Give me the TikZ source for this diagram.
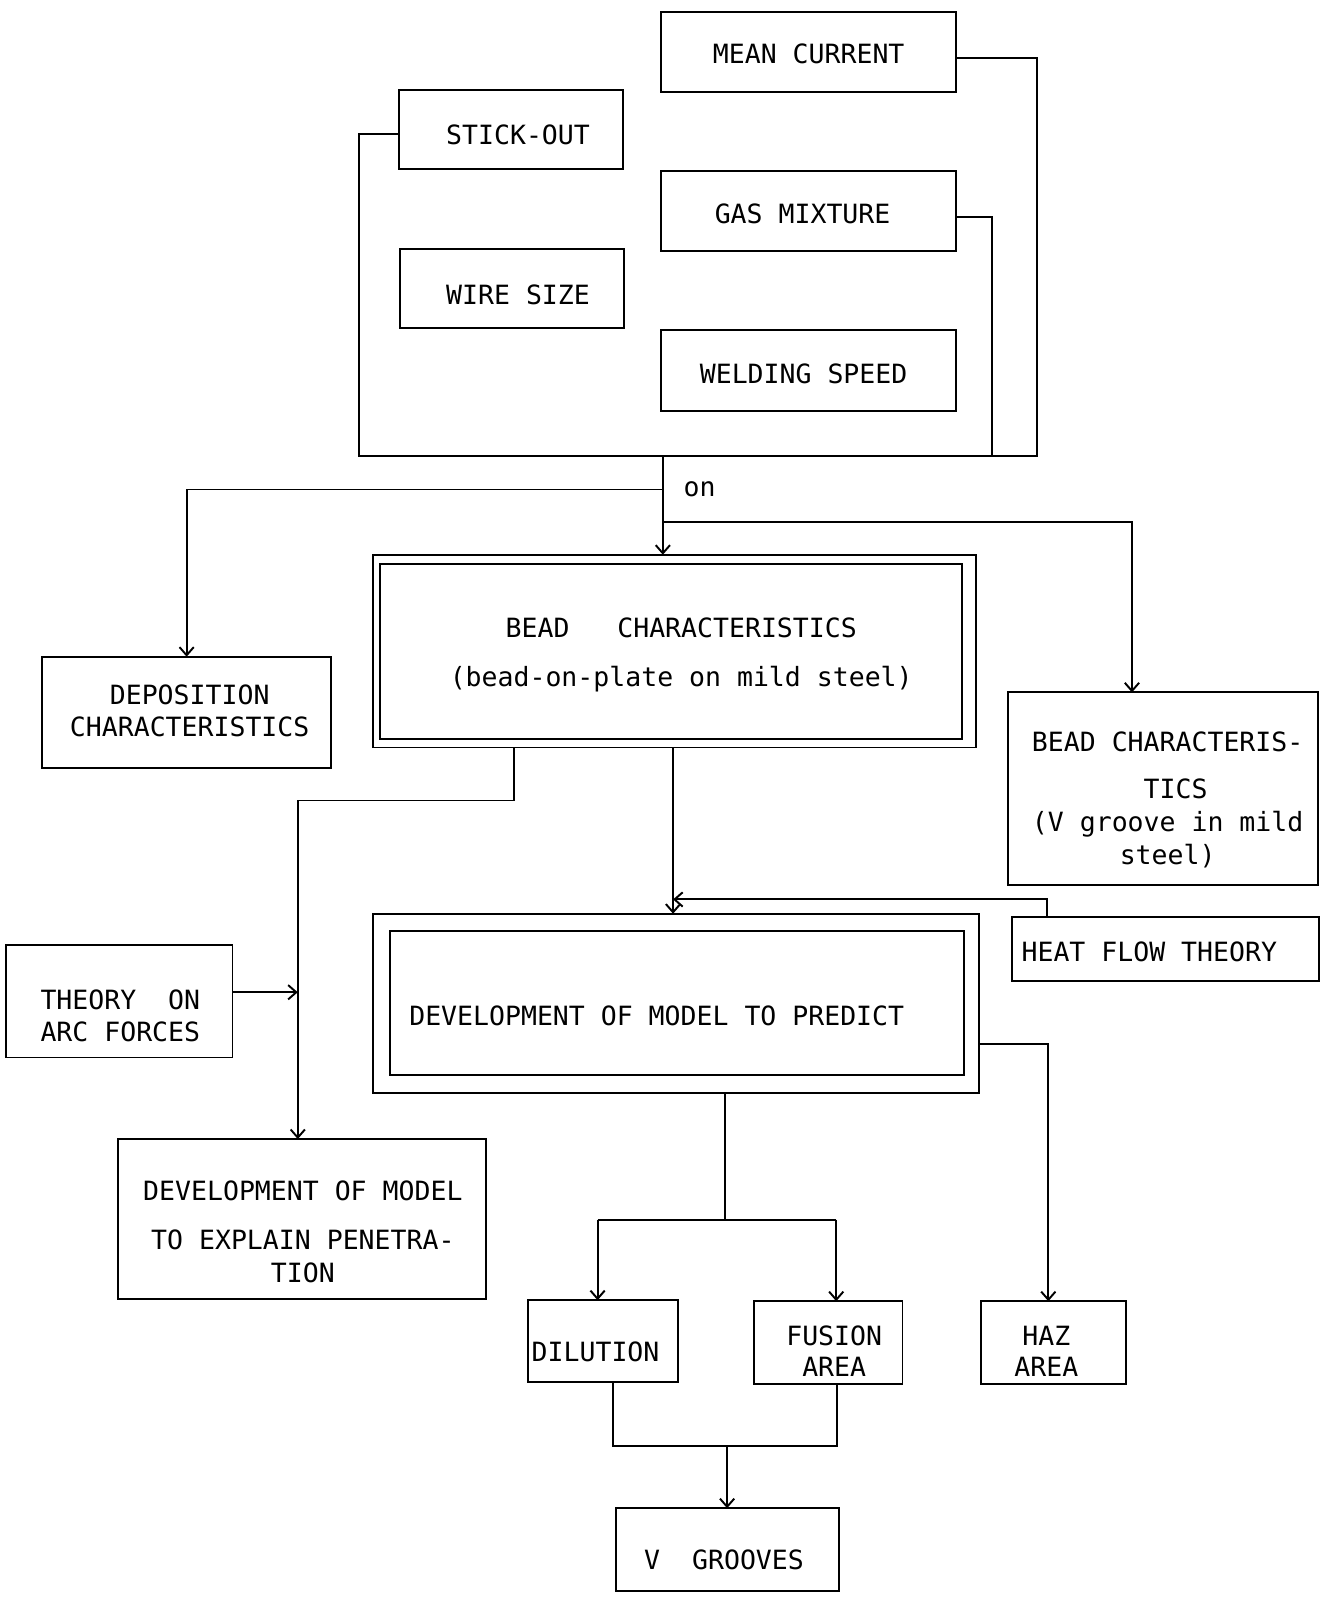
\documentclass[tikz,border=0pt]{standalone}
\usepackage{fontspec}
\setmonofont{DejaVu Sans Mono}
\usetikzlibrary{arrows.meta}
\begin{document}
\begin{tikzpicture}[x=1pt,y=-1pt,
  box/.style={draw, line width=1.9pt, rectangle, inner sep=0pt, outer sep=0pt, anchor=north west},
  lbl/.style={font=\fontsize{26}{32}\selectfont\ttfamily, inner sep=0pt, align=center},
  wire/.style={line width=1.9pt},
  arr/.style={wire, -{Straight Barb[length=8pt,width=14pt,line width=1.9pt]}}]
\useasboundingbox[fill=white] (0,0) rectangle (1295,1568);

% ---- input parameters ----
\node[box, minimum width=289pt, minimum height=78pt] (mc) at (648,12) {};
\node[lbl] (mct) at (793,53) {MEAN CURRENT};
\node[box, minimum width=220pt, minimum height=78pt] (so) at (391,88) {};
\node[lbl] (sot) at (508,132) {STICK-OUT};
\node[box, minimum width=289pt, minimum height=78pt] (gm) at (648,168) {};
\node[lbl] (gmt) at (787,210) {GAS MIXTURE};
\node[box, minimum width=220pt, minimum height=78pt] (ws) at (392,244) {};
\node[lbl] (wst) at (508,289) {WIRE SIZE};
\node[box, minimum width=289pt, minimum height=79pt] (sp) at (648,324) {};
\node[lbl] (spt) at (788,367) {WELDING SPEED};

% ---- collecting bus ----
\coordinate (y57) at (0,57);
\coordinate (y131) at (0,131);
\coordinate (y213) at (0,213);
\coordinate (busL) at (352,447);
\coordinate (busR) at (1017,447);
\coordinate (gmd) at (973,447);
\coordinate (tr) at (650,447);
\coordinate (j1) at (650,480);
\coordinate (j2) at (650,512);
\coordinate (j3) at (1110,512);
\draw[wire] (so.west |- y131) -| (busL) -- (busR) |- (mc.east |- y57);
\draw[wire] (gm.east |- y213) -| (gmd);

% ---- results of the trials ----
\node[box, minimum width=284pt, minimum height=109pt] (dep) at (41,644) {};
\node[lbl] (dept) at (186,697) {DEPOSITION\\CHARACTERISTICS};

\node[box, minimum width=591pt, minimum height=189pt] (bead) at (366,544) {};
\node[box, minimum width=570pt, minimum height=172pt] (beadin) at (373,553) {};
\node[lbl] (beadt) at (668,642) {BEAD~~~CHARACTERISTICS\\[16pt](bead-on-plate on mild steel)};

\node[box, minimum width=304pt, minimum height=189pt] (bv) at (988,679) {};
\node[lbl] (bvt) at (1145,784) {BEAD CHARACTERIS-\\[15pt]~TICS\\(V groove in mild\\steel)};

\node[lbl] (on) at (686,480) {on};
\draw[arr] (tr) -- (tr |- bead.north);
\draw[arr] (j1) -| (dep.north);
\draw[arr] (j2) -- (j3) -- (j3 |- bv.north);

% ---- modelling stage ----
\node[box, minimum width=301pt, minimum height=63pt] (hf) at (992,899) {};
\node[lbl] (hft) at (1127,933) {HEAT FLOW THEORY};

\node[box, minimum width=594pt, minimum height=176pt] (pred) at (366,896) {};
\node[box, minimum width=563pt, minimum height=141pt] (predin) at (382,913) {};
\node[lbl] (predt) at (644,996) {DEVELOPMENT OF MODEL TO PREDICT};

\node[box, minimum width=222pt, minimum height=110pt] (arc) at (6,927) {};
\node[lbl] (arct) at (118,996) {THEORY~~ON\\ARC FORCES};

\node[box, minimum width=361pt, minimum height=157pt] (pen) at (116,1117) {};
\node[lbl] (pent) at (297,1208) {DEVELOPMENT OF MODEL\\[16pt]TO EXPLAIN PENETRA-\\TION};

\coordinate (x504) at (504,0);
\coordinate (x660) at (660,0);
\coordinate (y973) at (0,973);
\coordinate (k1) at (292,785);
\coordinate (h1) at (660,882);
\coordinate (x1027) at (1027,0);
\draw[arr] (bead.south -| x504) |- (k1) -- (k1 |- pen.north);
\draw[arr] (arc.east |- y973) -- (k1 |- y973);
\draw[arr] (bead.south -| x660) -- (pred.north -| x660);
\draw[arr] (hf.north -| x1027) |- (h1);

% ---- predicted quantities ----
\node[box, minimum width=147pt, minimum height=80pt] (dil) at (518,1275) {};
\node[lbl] (dilt) at (584,1326) {DILUTION};
\node[box, minimum width=146pt, minimum height=81pt] (fus) at (739,1276) {};
\node[lbl, font=\fontsize{26}{30}\selectfont\ttfamily] (fust) at (818,1325) {FUSION\\AREA};
\node[box, minimum width=142pt, minimum height=81pt] (haz) at (962,1276) {};
\node[lbl, font=\fontsize{26}{30}\selectfont\ttfamily] (hazt) at (1026,1325) {HAZ~\\AREA};
\node[box, minimum width=219pt, minimum height=81pt] (vg) at (604,1479) {};
\node[lbl] (vgt) at (710,1530) {V~~GROOVES};

\coordinate (p1) at (711,1196);
\coordinate (pL) at (586,1196);
\coordinate (pR) at (820,1196);
\coordinate (y1024) at (0,1024);
\coordinate (x1028) at (1028,0);
\coordinate (mL) at (601,1418);
\coordinate (mR) at (821,1418);
\coordinate (m1) at (713,1418);
\draw[wire] (pred.south -| p1) -- (p1);
\draw[wire] (pL) -- (pR);
\draw[arr] (pL) -- (pL |- dil.north);
\draw[arr] (pR) -- (pR |- fus.north);
\draw[arr] (pred.east |- y1024) -| (haz.north -| x1028);
\draw[wire] (dil.south -| mL) -- (mL) -- (mR) -- (fus.south -| mR);
\draw[arr] (m1) -- (m1 |- vg.north);
\end{tikzpicture}
\end{document}
